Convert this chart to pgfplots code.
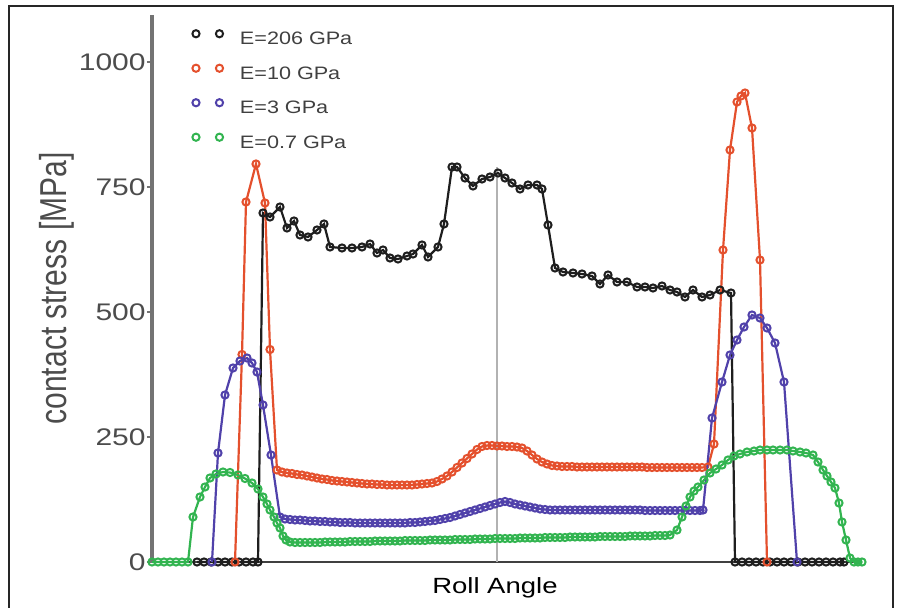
\documentclass[border=0pt]{standalone}
\usepackage{fontspec}
\setmainfont{Liberation Sans}
\newfontfamily\tickfont{Liberation Sans}[FakeStretch=1.25]
\newfontfamily\legfont{Liberation Sans}[FakeStretch=1.2]
\usepackage{pgfplots}
\pgfplotsset{compat=1.18}

\definecolor{cblk}{RGB}{30,30,30}
\definecolor{cred}{RGB}{228,80,45}
\definecolor{cblue}{RGB}{80,65,170}
\definecolor{cgreen}{RGB}{50,180,80}

% x is the horizontal position (roll angle, arbitrary units), y in MPa
\begin{document}
\begin{tikzpicture}
\begin{axis}[
  scale only axis, width=355pt, height=273.5pt,
  xmin=152, xmax=862, ymin=0, ymax=1094,
  axis x line=bottom, axis y line=left,
  x axis line style={-, line width=1.3pt, draw=black!75},
  y axis line style={-, line width=1.8pt, draw=black!55},
  xtick=\empty,
  ytick={0,250,500,750,1000},
  tick align=outside, major tick length=2.5pt,
  every tick/.style={black!55, line width=1pt},
  /pgf/number format/assume math mode=true,
  /pgf/number format/1000 sep={},
  yticklabel style={font=\tickfont\fontsize{12}{12}\selectfont, text=black!70, inner sep=0.5pt},
  xlabel={Roll Angle},
  xlabel style={font=\tickfont\fontsize{11}{11}\selectfont, at={(axis description cs:0.483,-0.0567)}, anchor=base},
  ylabel={contact stress [MPa]},
  ylabel style={font=\fontsize{15}{15}\selectfont, text=black!70, at={(axis description cs:-0.134,0.5)}, anchor=center, yscale=1.25},
  clip=false,
  legend cell align=left,
  legend image code/.code={
    \path[#1, draw opacity=0, every mark/.append style={draw opacity=1}] plot coordinates {(0pt,3.2pt) (11.75pt,3.2pt)};
    \path[draw=none] (0pt,0pt) -- (21pt,0pt);
  },
  legend style={draw=none, fill=none, at={(axis description cs:0.0563,0.973)}, anchor=north west,
    inner sep=0pt, row sep=7.35pt, font=\legfont\fontsize{9}{9}\selectfont, text=black!75,
    nodes={inner sep=1pt}},
  every axis plot/.append style={line width=1.1pt, mark=o, mark size=1.8pt, mark options={line width=1pt}},
]

\addplot[black!30, line width=0.6pt, mark=none, forget plot] coordinates {(497,0) (497,790)};

% E = 206 GPa
\addplot[color=cblk] coordinates {
  (197,0) (204,0) (211,0) (218,0) (225,0) (232,0) (239,0) (246,0) (253,0) (258,0)
  (263,698) (270,690) (280,710) (287,668) (294,682) (300,654) (308,650) (317,664) (324,676)
  (330,630) (342,628) (352,628) (362,630) (370,636) (377,618) (383,624) (390,608) (398,606)
  (407,612) (413,616) (422,634) (428,610) (438,630) (444,676) (452,790) (457,790) (465,768)
  (473,752) (482,766) (490,770) (498,778) (505,768) (512,758) (520,746) (528,754) (537,754)
  (542,746) (548,674) (555,588) (563,580) (573,578) (582,576) (592,572) (600,556) (608,574)
  (617,560) (627,560) (637,550) (645,550) (653,548) (662,552) (670,544) (677,540) (685,530)
  (693,544) (702,530) (710,534) (720,544) (731,538)
  (735,0) (742,0) (749,0) (756,0) (763,0) (770,0) (777,0) (784,0) (791,0) (798,0) (805,0)
  (812,0) (819,0) (826,0) (833,0) (840,0) (844,0)
};
\addlegendentry{E=206 GPa}

% E = 10 GPa
\addplot[color=cred] coordinates {
  (235,0) (242,415) (246,720) (256,796) (265,718) (270,425) (277,184)
  (282,180) (287,178) (292,177) (297,175) (302,174) (307,172) (312,170) (317,168) (322,166)
  (327,165) (332,163) (337,162) (342,161) (347,160) (352,159) (357,158) (362,157) (367,156)
  (372,156) (377,155) (382,155) (387,154) (392,154) (397,154) (402,154) (407,154) (412,154)
  (417,155) (422,156) (427,157) (432,158) (437,161) (442,166) (447,172) (452,180) (457,189)
  (462,198) (467,207) (472,216) (477,225) (482,231) (487,233) (492,233) (497,232) (502,232)
  (507,231) (512,231) (517,230) (522,228) (527,222) (532,214) (537,206) (542,200) (547,196)
  (552,193) (557,192) (562,191) (567,191) (572,191) (577,190) (582,190) (587,190) (592,190)
  (597,190) (602,190) (607,190) (612,190) (617,190) (622,190) (627,190) (632,190) (637,190)
  (642,190) (647,189) (652,189) (657,189) (662,189) (667,189) (672,189) (677,189) (682,189)
  (687,189) (692,189) (697,189) (702,189) (708,190)
  (714,236) (723,624) (730,824) (737,920) (741,932) (745,938) (752,868) (760,604) (767,0)
};
\addlegendentry{E=10 GPa}

% E = 3 GPa
\addplot[color=cblue] coordinates {
  (212,0) (218,218) (225,334) (233,388) (240,402) (247,408) (252,398) (257,380) (263,314)
  (271,214) (280,90)
  (285,86) (290,85) (295,84) (300,84) (305,83) (310,82) (315,82) (320,81) (325,81) (330,80)
  (335,80) (340,79) (345,79) (350,79) (355,78) (360,78) (365,78) (370,78) (375,78) (380,78)
  (385,78) (390,78) (395,78) (400,78) (405,78) (410,79) (415,79) (420,80) (425,81) (430,82)
  (435,83) (440,85) (445,87) (450,89) (455,92) (460,95) (465,98) (470,101) (475,104) (480,107)
  (485,110) (490,113) (495,116) (500,119) (505,121) (510,119) (515,116) (520,114) (525,112)
  (530,110) (535,108) (540,106) (545,105) (550,104) (555,104) (560,104) (565,104) (570,104)
  (575,104) (580,104) (585,104) (590,104) (595,104) (600,104) (605,104) (610,104) (615,104)
  (620,104) (625,104) (630,104) (635,104) (640,104) (645,103) (650,103) (655,103) (660,103)
  (665,103) (670,103) (675,103) (680,103) (685,103) (690,103) (695,103) (700,103) (703,104)
  (712,288) (722,360) (730,414) (737,444) (744,470) (752,494) (760,488) (767,468) (775,438)
  (784,360) (797,0)
};
\addlegendentry{E=3 GPa}

% E = 0.7 GPa
\addplot[color=cgreen] coordinates {
  (152,0) (158,0) (164,0) (170,0) (176,0) (182,0) (188,0)
  (193,90) (200,130) (205,150) (210,168) (216,176) (223,180) (230,179) (238,174) (245,167)
  (252,158) (258,146) (263,130) (267,116) (270,104) (274,90) (277,78) (280,68) (283,52)
  (286,44) (290,40)
  (295,39) (300,39) (305,39) (310,39) (315,39) (320,39) (325,40) (330,40) (335,40) (340,40)
  (345,40) (350,41) (355,41) (360,41) (365,41) (370,41) (375,42) (380,42) (385,42) (390,42)
  (395,42) (400,42) (405,43) (410,43) (415,43) (420,43) (425,43) (430,44) (435,44) (440,44)
  (445,44) (450,44) (455,45) (460,45) (465,45) (470,45) (475,46) (480,46) (485,46) (490,46)
  (495,47) (500,47) (505,47) (510,47) (515,47) (520,48) (525,48) (530,48) (535,48) (540,48)
  (545,49) (550,49) (555,49) (560,49) (565,49) (570,50) (575,50) (580,50) (585,50) (590,50)
  (595,50) (600,51) (605,51) (610,51) (615,51) (620,51) (625,51) (630,52) (635,52) (640,52)
  (645,52) (650,52) (655,53) (660,53) (665,53) (670,54)
  (677,64) (682,90) (686,112) (690,130) (694,142) (698,150) (704,164) (710,178) (716,186)
  (722,194) (728,204) (734,212) (740,216) (747,220) (754,222) (760,224) (767,224) (773,224)
  (780,224) (787,224) (793,222) (800,220) (806,218) (813,214) (818,200) (823,184) (827,172)
  (831,160) (835,148) (839,118) (842,80) (846,44) (850,8) (854,0) (858,0) (862,0)
};
\addlegendentry{E=0.7 GPa}

\coordinate (bbl) at (axis cs:0,-92);
\coordinate (btr) at (axis cs:897,1124);
\draw[line width=0.8pt, black!85] (axis cs:9,-92) -- (axis cs:9,1112) -- (axis cs:893,1112) -- (axis cs:893,-92);
\end{axis}
\pgfresetboundingbox
\useasboundingbox (bbl) rectangle (btr);
\end{tikzpicture}
\end{document}
